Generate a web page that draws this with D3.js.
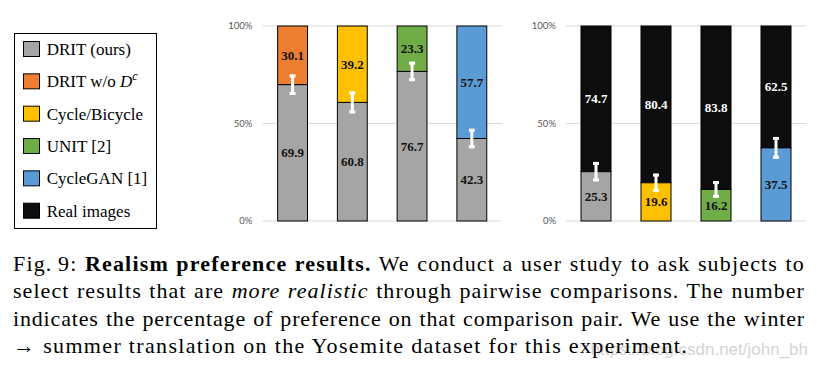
<!DOCTYPE html>
<html><head><meta charset="utf-8">
<script src="https://cdn.jsdelivr.net/npm/d3@7"></script>
<style>
body{margin:0;background:#fff;width:817px;height:368px;overflow:hidden;position:relative}
svg{position:absolute;left:0;top:0}
.serif{font-family:"Liberation Serif","Times New Roman",Times,serif}
.tick{font-family:Lato,"Open Sans",sans-serif;font-size:9.5px}
.blab{font-family:"Liberation Serif","Times New Roman",Times,serif;font-weight:bold;font-size:13px}
.leg{font-family:"Liberation Serif","Times New Roman",Times,serif;font-size:17px}
.wmt{font-family:"Liberation Sans",Arial,sans-serif;font-size:17px}
#cap{position:absolute;left:13px;top:249.5px;width:792px;font-size:22px;line-height:27.5px;color:#000}
#cap .l{white-space:nowrap;text-align:justify;text-align-last:justify}
#cap .last{text-align-last:left}
</style></head><body>
<svg id="wm" width="817" height="368"></svg>
<svg id="chart" width="817" height="368"></svg>
<div id="cap" class="serif"></div>
<script>
// ---- data ----
const yTicks = [0, 50, 100];
const tickLabels = ["0%", "50%", "100%"];
const leftCategories = ["DRIT w/o Dc", "Cycle/Bicycle", "UNIT", "CycleGAN"];
const leftBottom = [69.9, 60.8, 76.7, 42.3];   // DRIT (ours)
const leftTop = [30.1, 39.2, 23.3, 57.7];      // competing method
const leftErr = [5.3, 5.6, 5.0, 5.0];
const rightCategories = ["DRIT (ours)", "Cycle/Bicycle", "UNIT", "CycleGAN"];
const rightBottom = [25.3, 19.6, 16.2, 37.5];  // method
const rightTop = [74.7, 80.4, 83.8, 62.5];     // real images
const rightErr = [5.0, 4.7, 4.3, 5.6];
const legendLabels = ["DRIT (ours)", "DRIT w/o D", "Cycle/Bicycle", "UNIT [2]", "CycleGAN [1]", "Real images"];
const colors = {
  "DRIT (ours)": "#A5A5A5", "DRIT w/o Dc": "#ED7D31", "Cycle/Bicycle": "#FFC000",
  "UNIT": "#70AD47", "CycleGAN": "#5B9BD5", "Real images": "#0D0D0D"
};
const legendColors = ["#A5A5A5", "#ED7D31", "#FFC000", "#70AD47", "#5B9BD5", "#0D0D0D"];
const captionLines = [
  'Fig.&#8201;9: <b>Realism preference results.</b> We conduct a user study to ask subjects to',
  'select results that are <i>more realistic</i> through pairwise comparisons. The number',
  'indicates the percentage of preference on that comparison pair. We use the winter',
  '\u2192 summer translation on the Yosemite dataset for this experiment.'
];
const watermark = "https://blog.csdn.net/john_bh";

const svg = d3.select("#chart");
const y = d3.scaleLinear().domain([0, 100]).range([221, 26]);

function drawPanel(x0, x1, labelX, cats, bottom, top, err, bottomColor, topColor, topLabelColor) {
  const x = d3.scaleBand().domain(cats).range([x0, x1]).paddingInner(0.5).paddingOuter(0.25);
  const g = svg.append("g");
  g.selectAll("line.grid").data(yTicks).join("line")
    .attr("x1", x0).attr("x2", x1)
    .attr("y1", d => y(d)).attr("y2", d => y(d))
    .attr("stroke", "#d9d9d9").attr("stroke-width", 1);
  g.selectAll("text.tick").data(yTicks).join("text")
    .attr("class", "tick")
    .attr("x", labelX).attr("y", d => y(d)).attr("dy", "0.35em")
    .attr("text-anchor", "end").attr("fill", "#595959")
    .text((d, i) => tickLabels[i]);
  const rows = cats.map((c, i) => ({c, b: bottom[i], t: top[i], e: err[i], i}));
  g.selectAll("rect.top").data(rows).join("rect")
    .attr("x", d => x(d.c)).attr("width", x.bandwidth())
    .attr("y", d => y(d.b + d.t)).attr("height", d => y(d.b) - y(d.b + d.t))
    .attr("fill", d => topColor(d)).attr("stroke", "#000").attr("stroke-width", 1);
  g.selectAll("rect.bot").data(rows).join("rect")
    .attr("x", d => x(d.c)).attr("width", x.bandwidth())
    .attr("y", d => y(d.b)).attr("height", d => y(0) - y(d.b))
    .attr("fill", d => bottomColor(d)).attr("stroke", "#000").attr("stroke-width", 1);
  const lab = (sel) => sel.attr("class", "blab").attr("text-anchor", "middle").attr("dy", "0.35em");
  g.selectAll("text.bl").data(rows).join("text")
    .attr("x", d => x(d.c) + x.bandwidth() / 2).attr("y", d => (y(0) + y(d.b)) / 2)
    .call(lab).attr("fill", "#111").text(d => d.b.toFixed(1));
  g.selectAll("text.tl").data(rows).join("text")
    .attr("x", d => x(d.c) + x.bandwidth() / 2).attr("y", d => (y(d.b) + y(d.b + d.t)) / 2)
    .call(lab).attr("fill", topLabelColor).text(d => d.t.toFixed(1));
  const eb = g.selectAll("g.eb").data(rows).join("g");
  eb.append("line")
    .attr("x1", d => x(d.c) + x.bandwidth() / 2).attr("x2", d => x(d.c) + x.bandwidth() / 2)
    .attr("y1", d => y(d.b + d.e)).attr("y2", d => y(d.b - d.e))
    .attr("stroke", "#fff").attr("stroke-width", 3);
  eb.append("rect")
    .attr("x", d => x(d.c) + x.bandwidth() / 2 - 3).attr("width", 6)
    .attr("y", d => y(d.b + d.e)).attr("height", 3).attr("fill", "#fff");
  eb.append("rect")
    .attr("x", d => x(d.c) + x.bandwidth() / 2 - 3).attr("width", 6)
    .attr("y", d => y(d.b - d.e) - 3).attr("height", 3).attr("fill", "#fff");
}

drawPanel(262.7, 501.7, 252.3, leftCategories, leftBottom, leftTop, leftErr,
  d => colors["DRIT (ours)"], d => colors[d.c], "#111");
drawPanel(566, 806, 556, rightCategories, rightBottom, rightTop, rightErr,
  d => colors[d.c], d => colors["Real images"], "#fff");

// legend
const lg = svg.append("g");
lg.append("rect").attr("x", 14.5).attr("y", 33.5).attr("width", 142).attr("height", 195)
  .attr("fill", "#fff").attr("stroke", "#000").attr("stroke-width", 1);
const ly = d3.scalePoint().domain(legendLabels).range([49, 210.7]);
legendLabels.forEach((l, i) => {
  lg.append("rect").attr("x", 23.5).attr("y", ly(l) - 7.5).attr("width", 16).attr("height", 15)
    .attr("fill", legendColors[i]).attr("stroke", "#000").attr("stroke-width", 1);
  const t = lg.append("text").attr("class", "leg").attr("x", 46.7).attr("y", ly(l) + 6).attr("fill", "#000");
  if (i === 1) {
    t.append("tspan").text("DRIT w/o ");
    t.append("tspan").style("font-style", "italic").text("D");
    t.append("tspan").style("font-style", "italic").style("font-size", "12px").attr("dy", -7).text("c");
  } else {
    t.text(l);
  }
});

// caption
const cap = d3.select("#cap");
cap.selectAll("div").data(captionLines).join("div")
  .attr("class", (d, i) => i === captionLines.length - 1 ? "l last" : "l")
  .html(d => d);
// per-line letter spacing (measured without justification) so word gaps stay natural
cap.selectAll("div").each(function (d, i) {
  const span = document.createElement("span");
  span.innerHTML = this.innerHTML; this.innerHTML = ""; this.appendChild(span);
  this.style.textAlign = "left";
  this.style.textAlignLast = "left";
  const w = span.getBoundingClientRect().width;
  const n = span.textContent.length;
  const target = i === captionLines.length - 1 ? 675 : 782;
  this.style.letterSpacing = Math.max(0, (target - w) / n) + "px";
  this.style.textAlign = "";
  this.style.textAlignLast = "";
});

// watermark
d3.select("#wm").append("text").attr("class", "wmt").attr("x", 808).attr("y", 355).attr("text-anchor", "end")
  .attr("fill", "#d4d4d4").text(watermark);
</script>
</body></html>
